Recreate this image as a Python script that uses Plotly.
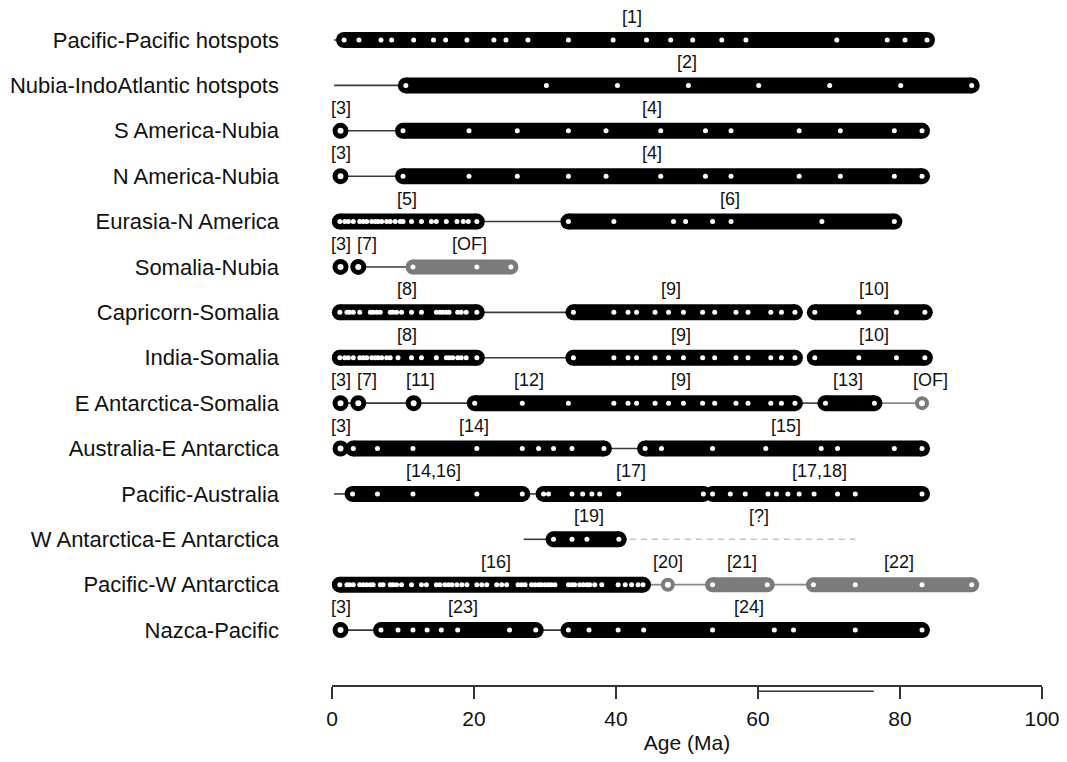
import plotly.graph_objects as go

# ---------------- data ----------------
row_names = [
    "Pacific-Pacific hotspots", "Nubia-IndoAtlantic hotspots", "S America-Nubia",
    "N America-Nubia", "Eurasia-N America", "Somalia-Nubia", "Capricorn-Somalia",
    "India-Somalia", "E Antarctica-Somalia", "Australia-E Antarctica",
    "Pacific-Australia", "W Antarctica-E Antarctica", "Pacific-W Antarctica",
    "Nazca-Pacific",
]

# segments: (kind, ages in Ma)  kind: bar=black bar, gbar=grey bar, ring=black ring, gring=grey ring
seg_pacific_pacific = [("bar", [1.7, 3.8, 6.9, 8.4, 11.5, 14.3, 16.0, 19.0, 22.8, 24.5, 27.6, 33.3, 39.6,
                                44.3, 47.7, 50.8, 54.9, 58.3, 71.1, 78.2, 80.7, 83.8])]
seg_nubia_indoatl = [("bar", [10.4, 30.2, 40.2, 50.2, 60.1, 70.1, 80.1, 90.1])]
seg_samerica_nubia = [("ring", [1.2]),
                      ("bar", [10.0, 19.3, 26.1, 33.3, 38.6, 46.3, 52.6, 56.2, 65.8, 71.6, 79.2, 83.1])]
seg_namerica_nubia = [("ring", [1.2]),
                      ("bar", [10.0, 19.3, 26.1, 33.3, 38.6, 46.3, 52.6, 56.2, 65.8, 71.6, 79.2, 83.1])]
seg_eurasia_namerica = [("bar", [1.1, 1.8, 2.3, 3.0, 3.9, 4.4, 4.9, 5.6, 6.1, 6.5, 7.0, 7.7, 8.2, 8.9, 9.6,
                                 10.0, 11.2, 12.6, 14.0, 14.7, 16.1, 17.6, 18.5, 19.2, 20.4]),
                        ("bar", [33.3, 39.7, 48.1, 49.8, 53.6, 56.2, 69.0, 79.2])]
seg_somalia_nubia = [("ring", [1.2]), ("ring", [3.7]), ("gbar", [11.4, 20.4, 25.2])]
seg_capricorn_somalia = [("bar", [1.1, 2.1, 2.5, 3.0, 3.9, 5.4, 5.8, 6.3, 6.8, 8.2, 8.6, 9.1, 9.8, 11.2,
                                  12.6, 14.7, 15.2, 15.6, 16.1, 16.5, 17.7, 18.2, 18.9, 20.4]),
                         ("bar", [34.0, 39.7, 41.7, 42.9, 45.5, 47.4, 49.5, 52.2, 53.9, 56.9, 58.6, 61.8,
                                  63.3, 65.2]),
                         ("bar", [68.0, 74.2, 79.5, 83.5])]
seg_india_somalia = [("bar", [1.1, 1.8, 2.3, 3.0, 3.9, 4.4, 4.9, 5.6, 6.1, 6.5, 7.0, 7.7, 8.2, 9.3, 11.2,
                              12.6, 14.7, 16.1, 16.5, 17.0, 17.7, 18.2, 18.9, 20.4]),
                     ("bar", [34.0, 39.7, 41.7, 42.9, 45.5, 47.4, 49.5, 52.2, 53.9, 56.9, 58.6, 61.8,
                              63.3, 65.2]),
                     ("bar", [68.0, 74.2, 79.5, 83.5])]
seg_eantarctica_somalia = [("ring", [1.2]), ("ring", [3.7]), ("ring", [11.5]),
                           ("bar", [20.1, 26.8, 33.3, 39.7, 41.7, 42.9, 45.5, 47.4, 49.5, 52.2, 53.9,
                                    56.9, 58.6, 61.8, 63.3, 65.2]),
                           ("bar", [69.5, 76.4]), ("gring", [83.1])]
seg_australia_eant = [("ring", [1.2]),
                      ("bar", [3.0, 6.4, 11.4, 20.4, 26.8, 29.1, 31.2, 33.8, 38.3]),
                      ("bar", [44.1, 46.4, 53.6, 61.1, 68.9, 71.2, 79.2, 83.1])]
seg_pacific_australia = [("bar", [2.9, 6.4, 11.4, 20.4, 26.8]),
                         ("bar", [29.8, 30.5, 33.8, 35.3, 36.6, 37.7, 40.4, 52.3]),
                         ("bar", [53.6, 56.1, 58.2, 61.4, 62.6, 64.2, 65.8, 67.9, 71.2, 73.7, 83.1])]
seg_want_eant = [("bar", [31.2, 33.8, 35.9, 40.4])]
seg_pacific_want = [("bar", [1.1, 2.1, 2.5, 3.0, 3.9, 4.4, 4.9, 5.4, 5.8, 6.8, 7.2, 8.2, 8.6, 9.1, 9.8,
                             11.2, 12.6, 13.3, 14.7, 15.2, 15.9, 16.4, 16.9, 17.6, 18.3, 19.0, 20.4,
                             21.1, 21.8, 23.2, 23.9, 24.6, 26.2, 26.7, 27.2, 28.1, 28.6, 29.1, 29.5,
                             30.0, 30.5, 30.9, 31.4, 33.3, 33.8, 34.2, 34.9, 35.4, 35.9, 36.3, 37.0,
                             38.0, 40.3, 41.3, 42.2, 43.1, 43.8]),
                    ("gring", [47.3]), ("gbar", [53.6, 61.3]), ("gbar", [67.8, 73.7, 83.1, 90.1])]
seg_nazca_pacific = [("ring", [1.2]),
                     ("bar", [6.9, 9.3, 11.4, 13.4, 15.4, 17.7, 25.0, 28.7]),
                     ("bar", [33.3, 36.2, 40.3, 43.9, 53.6, 62.3, 65.0, 73.7, 83.1])]

# connector lines: (start, end, kind)  kind: k=dark, g=grey, d=dashed
lnk_pacific_pacific = [(0.3, 1.7, "k")]
lnk_nubia_indoatl = [(0.3, 10.4, "k")]
lnk_samerica_nubia = [(1.2, 10.0, "k")]
lnk_namerica_nubia = [(1.2, 10.0, "k")]
lnk_eurasia_namerica = [(20.4, 33.3, "k")]
lnk_somalia_nubia = [(3.7, 11.4, "k")]
lnk_capricorn_somalia = [(20.4, 34.0, "k")]
lnk_india_somalia = [(20.4, 34.0, "k")]
lnk_eantarctica_somalia = [(1.2, 20.1, "k"), (65.2, 69.5, "k"), (76.4, 83.1, "g")]
lnk_australia_eant = [(38.3, 44.1, "k")]
lnk_pacific_australia = [(0.3, 2.9, "k"), (26.8, 29.8, "k")]
lnk_want_eant = [(27.0, 31.2, "k"), (40.4, 73.7, "d")]
lnk_pacific_want = [(43.8, 47.3, "g"), (47.3, 53.6, "g"), (61.3, 67.8, "g")]
lnk_nazca_pacific = [(1.2, 6.9, "k"), (28.7, 33.3, "k")]

# reference labels: (age, text)
lab_pacific_pacific = [(42.3, "[1]")]
lab_nubia_indoatl = [(50.0, "[2]")]
lab_samerica_nubia = [(1.2, "[3]"), (45.0, "[4]")]
lab_namerica_nubia = [(1.2, "[3]"), (45.0, "[4]")]
lab_eurasia_namerica = [(10.6, "[5]"), (56.0, "[6]")]
lab_somalia_nubia = [(1.2, "[3]"), (4.9, "[7]"), (19.4, "[OF]")]
lab_capricorn_somalia = [(10.5, "[8]"), (47.8, "[9]"), (76.4, "[10]")]
lab_india_somalia = [(10.5, "[8]"), (49.2, "[9]"), (76.4, "[10]")]
lab_eantarctica_somalia = [(1.2, "[3]"), (4.9, "[7]"), (12.4, "[11]"), (27.8, "[12]"),
                           (49.2, "[9]"), (72.7, "[13]"), (84.3, "[OF]")]
lab_australia_eant = [(1.2, "[3]"), (20.0, "[14]"), (63.9, "[15]")]
lab_pacific_australia = [(14.3, "[14,16]"), (42.1, "[17]"), (68.7, "[17,18]")]
lab_want_eant = [(36.2, "[19]"), (60.2, "[?]")]
lab_pacific_want = [(23.1, "[16]"), (47.3, "[20]"), (57.8, "[21]"), (79.9, "[22]")]
lab_nazca_pacific = [(1.2, "[3]"), (18.4, "[23]"), (58.8, "[24]")]

x_ticks = [0, 20, 40, 60, 80, 100]
x_title = "Age (Ma)"
extra_bar = [60, 76.3]  # the odd bracket under the axis

# ---------------- assembly ----------------
segments = [seg_pacific_pacific, seg_nubia_indoatl, seg_samerica_nubia, seg_namerica_nubia,
            seg_eurasia_namerica, seg_somalia_nubia, seg_capricorn_somalia, seg_india_somalia,
            seg_eantarctica_somalia, seg_australia_eant, seg_pacific_australia, seg_want_eant,
            seg_pacific_want, seg_nazca_pacific]
links = [lnk_pacific_pacific, lnk_nubia_indoatl, lnk_samerica_nubia, lnk_namerica_nubia,
         lnk_eurasia_namerica, lnk_somalia_nubia, lnk_capricorn_somalia, lnk_india_somalia,
         lnk_eantarctica_somalia, lnk_australia_eant, lnk_pacific_australia, lnk_want_eant,
         lnk_pacific_want, lnk_nazca_pacific]
labels = [lab_pacific_pacific, lab_nubia_indoatl, lab_samerica_nubia, lab_namerica_nubia,
          lab_eurasia_namerica, lab_somalia_nubia, lab_capricorn_somalia, lab_india_somalia,
          lab_eantarctica_somalia, lab_australia_eant, lab_pacific_australia, lab_want_eant,
          lab_pacific_want, lab_nazca_pacific]

BLACK = "#000000"
GREY = "#7b7b7b"
BAR_W = 16
GBAR_W = 15

lines = {"k": ([], []), "g": ([], []), "d": ([], [])}
for i, row in enumerate(links):
    for a, b, k in row:
        lines[k][0].extend([a, b, None])
        lines[k][1].extend([i, i, None])

bars = {"bar": ([], []), "gbar": ([], [])}
caps = {"bar": ([], []), "gbar": ([], [])}
dots = ([], [])
rings = {"ring": ([], []), "gring": ([], [])}
for i, row in enumerate(segments):
    for kind, ages in row:
        if kind in bars:
            bars[kind][0].extend([ages[0], ages[-1], None])
            bars[kind][1].extend([i, i, None])
            caps[kind][0].extend([ages[0], ages[-1]])
            caps[kind][1].extend([i, i])
            dots[0].extend(ages)
            dots[1].extend([i] * len(ages))
        else:
            rings[kind][0].extend(ages)
            rings[kind][1].extend([i] * len(ages))

fig = go.Figure()
fig.add_trace(go.Scatter(x=lines["k"][0], y=lines["k"][1], mode="lines",
                         line=dict(color="#3a3a3a", width=1.6), hoverinfo="skip"))
fig.add_trace(go.Scatter(x=lines["g"][0], y=lines["g"][1], mode="lines",
                         line=dict(color="#888888", width=1.8), hoverinfo="skip"))
fig.add_trace(go.Scatter(x=lines["d"][0], y=lines["d"][1], mode="lines",
                         line=dict(color="#c4c4c4", width=1.6, dash="6px,5px"), hoverinfo="skip"))
fig.add_trace(go.Scatter(x=bars["bar"][0], y=bars["bar"][1], mode="lines",
                         line=dict(color=BLACK, width=BAR_W), hoverinfo="skip"))
fig.add_trace(go.Scatter(x=caps["bar"][0], y=caps["bar"][1], mode="markers",
                         marker=dict(color=BLACK, size=BAR_W, line=dict(width=0)), hoverinfo="skip"))
fig.add_trace(go.Scatter(x=bars["gbar"][0], y=bars["gbar"][1], mode="lines",
                         line=dict(color=GREY, width=GBAR_W), hoverinfo="skip"))
fig.add_trace(go.Scatter(x=caps["gbar"][0], y=caps["gbar"][1], mode="markers",
                         marker=dict(color=GREY, size=GBAR_W, line=dict(width=0)), hoverinfo="skip"))
fig.add_trace(go.Scatter(x=rings["ring"][0], y=rings["ring"][1], mode="markers",
                         marker=dict(color="white", size=11, line=dict(color=BLACK, width=5)),
                         hoverinfo="skip"))
fig.add_trace(go.Scatter(x=rings["gring"][0], y=rings["gring"][1], mode="markers",
                         marker=dict(color="white", size=10, line=dict(color=GREY, width=4)),
                         hoverinfo="skip"))
fig.add_trace(go.Scatter(x=dots[0], y=dots[1], mode="markers",
                         marker=dict(color="white", size=5, line=dict(width=0)), hoverinfo="skip"))

for i, row in enumerate(labels):
    for a, t in row:
        fig.add_annotation(x=a, y=i, text=t, showarrow=False, yshift=23,
                           font=dict(size=18, color="#111111"))

fig.add_shape(type="line", xref="x", yref="paper", x0=extra_bar[0], x1=extra_bar[1],
              y0=-0.0095, y1=-0.0095, line=dict(color="#333333", width=1.5))

# page body has an 8px margin, so the figure is sized to fit inside the window
fig.update_layout(
    width=1051, height=746,
    margin=dict(l=324, r=17, t=9, b=69, autoexpand=False),
    plot_bgcolor="white", paper_bgcolor="white",
    showlegend=False,
    font=dict(family="Liberation Sans, Arial, sans-serif", color="#111111"),
    xaxis=dict(range=[0, 100], tickvals=x_ticks, ticks="outside", ticklen=12, tickwidth=1.5,
               tickcolor="#333333", showline=True, linecolor="#333333", linewidth=1.5,
               showgrid=False, zeroline=False, tickfont=dict(size=21), ticklabelstandoff=2,
               ticklabeloverflow="allow",
               title=dict(text=x_title, font=dict(size=21), standoff=6)),
    yaxis=dict(range=[14.21, -0.507], tickvals=list(range(len(row_names))), ticktext=row_names,
               showgrid=False, zeroline=False, showline=False, ticks="",
               ticklabelstandoff=52, tickfont=dict(size=22)),
)
for tr in fig.data:
    tr.cliponaxis = False

fig.write_html("out.html")
